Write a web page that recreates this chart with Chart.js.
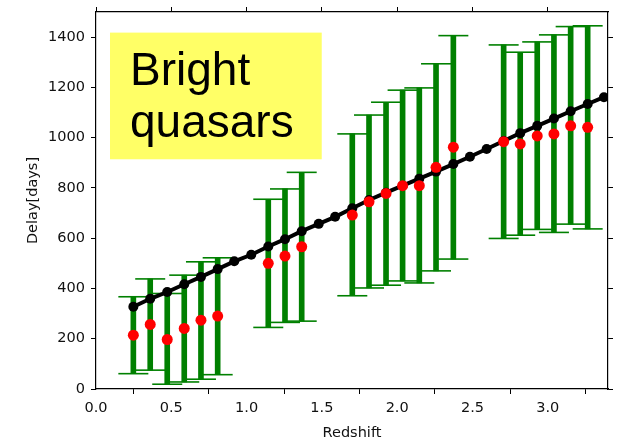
<!DOCTYPE html>
<html><head><meta charset="utf-8">
<script src="https://cdn.jsdelivr.net/npm/chart.js@4"></script>
<style>html,body{margin:0;padding:0;background:#fff;}#wrap{width:617px;height:441px;position:relative;}</style>
</head><body><div id="wrap"><canvas id="c" width="617" height="441"></canvas></div>
<script>
// Model curve (black)
const modelZ = [0.248,0.360,0.473,0.586,0.697,0.808,0.918,1.031,1.144,1.255,1.366,1.479,1.588,1.702,1.813,1.926,2.036,2.147,2.258,2.373,2.483,2.594,2.707,2.817,2.930,3.041,3.152,3.265,3.373];
const modelDelay = [327,359,386,417,446,477,508,534,567,596,628,657,685,719,752,781,809,837,865,895,924,955,987,1018,1047,1076,1105,1134,1161];
// Measured delays (red) with error ranges (green)
const obsZ = [0.248,0.360,0.473,0.586,0.697,0.808,1.144,1.255,1.366,1.702,1.813,1.926,2.036,2.147,2.258,2.373,2.707,2.817,2.930,3.041,3.152,3.265];
const obsDelay = [214,257,197,241,274,290,500,529,566,692,745,778,809,809,882,962,984,975,1007,1015,1047,1041];
const errLow = [61,75,19,28,39,57,245,265,270,371,402,413,430,422,470,517,599,612,635,623,656,637];
const errHigh = [367,438,380,453,506,522,755,796,862,1015,1090,1141,1189,1198,1294,1406,1369,1340,1381,1409,1442,1445];
// Axis ticks
const xTicks = [0.0,0.5,1.0,1.5,2.0,2.5,3.0];
const yTicks = [0,200,400,600,800,1000,1200,1400];
const noteLines = ['Bright','quasars'];

const GREEN = '#008000';
const tickFont = {family:'"DejaVu Sans", sans-serif', size:14.5};
const pts = (xs, ys) => xs.map((x,i)=>({x:x, y:ys[i]}));

const notePlugin = {
  id:'note',
  afterDatasetsDraw(chart){
    const {ctx, scales:{x,y}} = chart;
    const x0 = x.getPixelForValue(0.093), x1 = x.getPixelForValue(1.499);
    const y0 = y.getPixelForValue(1418), y1 = y.getPixelForValue(914);
    ctx.save();
    ctx.fillStyle = '#ffff66';
    ctx.fillRect(x0, y0, x1-x0, y1-y0);
    ctx.fillStyle = '#000';
    ctx.font = '46px "Liberation Sans", Arial, sans-serif';
    ctx.textBaseline = 'alphabetic';
    ctx.textAlign = 'left';
    ctx.fillText(noteLines[0], x0+20, y0+52.5);
    ctx.fillText(noteLines[1], x0+20, y0+104.5);
    ctx.restore();
  }
};

function fixW(w){ return s => { s.width = w; s.paddingLeft=s.paddingRight=s.paddingTop=s.paddingBottom=0; }; }
function fixH(h){ return s => { s.height = h; s.paddingLeft=s.paddingRight=s.paddingTop=s.paddingBottom=0; }; }
const axisCommon = {
  offset:false,
  grid:{drawOnChartArea:false, drawTicks:true, tickLength:5, color:'#000', lineWidth:1},
  border:{display:true, color:'#000', width:1.2}
};

new Chart(document.getElementById('c'), {
  type:'scatter',
  data:{datasets:[
    {type:'scatter', data:pts(obsZ, obsDelay), pointRadius:5.5, pointHoverRadius:5.5, backgroundColor:'#ff0000', borderWidth:0, order:0},
    {type:'line', data:pts(modelZ, modelDelay), showLine:true, borderColor:'#000', borderWidth:4, tension:0,
      pointRadius:5, pointHoverRadius:5, pointBackgroundColor:'#000', pointBorderWidth:0, fill:false, order:1, clip:0},
    {type:'scatter', data:pts(obsZ, errHigh), pointStyle:'line', pointRadius:15, pointHoverRadius:15, borderColor:GREEN, borderWidth:1.6, order:2},
    {type:'scatter', data:pts(obsZ, errLow), pointStyle:'line', pointRadius:15, pointHoverRadius:15, borderColor:GREEN, borderWidth:1.6, order:2},
    {type:'bar', data:obsZ.map((x,i)=>({x:x, y:[errLow[i], errHigh[i]]})), backgroundColor:GREEN, borderWidth:0, barThickness:5, grouped:false, order:3}
  ]},
  options:{
    responsive:false, animation:false, devicePixelRatio:1,
    layout:{padding:0, autoPadding:false},
    plugins:{legend:{display:false}, tooltip:{enabled:false}},
    events:[],
    scales:{
      x:{...axisCommon, type:'linear', position:'bottom', min:0, max:3.4,
        afterBuildTicks:s=>{ s.ticks = xTicks.map(v=>({value:v})); },
        afterFit:fixH(52),
        ticks:{font:tickFont, color:'#111', padding:6, maxRotation:0, autoSkip:false, callback:v=>Number(v).toFixed(1)},
        title:{display:true, text:'Redshift', font:{...tickFont, lineHeight:1}, color:'#111', padding:{top:0,bottom:0.5}}},
      y:{...axisCommon, type:'linear', position:'left', min:0, max:1500,
        afterBuildTicks:s=>{ s.ticks = yTicks.map(v=>({value:v})); },
        afterFit:fixW(96),
        ticks:{font:tickFont, color:'#111', padding:6, autoSkip:false, callback:v=>String(v)},
        title:{display:true, text:'Delay[days]', font:{...tickFont, lineHeight:1}, color:'#111', padding:{top:26,bottom:0}}},
      x2:{...axisCommon, type:'linear', position:'top', min:0, max:3.4,
        afterBuildTicks:s=>{ s.ticks = xTicks.map(v=>({value:v})); },
        afterFit:fixH(12), ticks:{display:false}},
      y2:{...axisCommon, type:'linear', position:'right', min:0, max:1500,
        afterBuildTicks:s=>{ s.ticks = yTicks.map(v=>({value:v})); },
        afterFit:fixW(9), ticks:{display:false}}
    }
  },
  plugins:[notePlugin]
});
</script></body></html>
